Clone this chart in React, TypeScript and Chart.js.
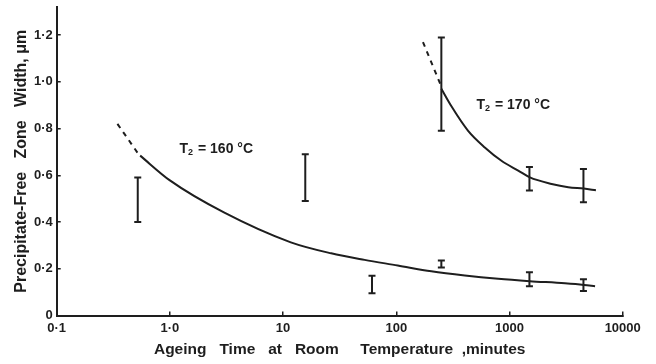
import React, { useEffect, useRef } from "react";
import { Chart, registerables } from "chart.js";

Chart.register(...registerables);

// ---- axis ticks ----
const xTickValues = [0.1, 1, 10, 100, 1000, 10000];
const xTickLabels = ["0·1", "1·0", "10", "100", "1000", "10000"];
const yTickValues = [0, 0.2, 0.4, 0.6, 0.8, 1.0, 1.2];
const yTickLabels = ["0", "0·2", "0·4", "0·6", "0·8", "1·0", "1·2"];

// ---- T2 = 160 °C ----
const bars160X = [0.52, 15.7, 61, 250, 1500, 4500];
const bars160Low = [0.4, 0.49, 0.095, 0.205, 0.125, 0.105];
const bars160High = [0.59, 0.69, 0.17, 0.235, 0.185, 0.155];
const curve160X = [0.546, 1.0, 3.0, 11.7, 26.6, 52.5, 103, 204, 403, 794, 1513, 3090, 4550, 5700];
const curve160Y = [0.684, 0.578, 0.441, 0.313, 0.266, 0.238, 0.214, 0.189, 0.171, 0.157, 0.147, 0.138, 0.131, 0.125];
const dash160X = [0.344, 0.52];
const dash160Y = [0.82, 0.695];

// ---- T2 = 170 °C ----
const bars170X = [250, 1500, 4500];
const bars170Low = [0.79, 0.535, 0.485];
const bars170High = [1.19, 0.635, 0.627];
const curve170X = [250, 307, 431, 605, 849, 1194, 1513, 2355, 3305, 4530, 5800];
const curve170Y = [0.97, 0.895, 0.79, 0.719, 0.662, 0.62, 0.591, 0.563, 0.549, 0.543, 0.536];
const dash170X = [172, 245];
const dash170Y = [1.17, 0.99];

// ---- annotations ----
const labelTemps = ["160", "170"];
const labelX = [2.57, 1080];
const labelY = [0.716, 0.907];

const INK = "#1e1e1e";
const FAMILY = "'Liberation Sans', Arial, Helvetica, sans-serif";

const pts = (xs: number[], ys: number[]) => xs.map((x, i) => ({ x, y: ys[i] }));

const errorBarSets = (xs: number[], lo: number[], hi: number[]) =>
  xs.map((x, i) => ({
    type: "line" as const,
    data: [
      { x, y: lo[i] },
      { x, y: hi[i] },
    ],
    borderColor: INK,
    borderWidth: 2,
    pointStyle: "line" as const,
    pointRadius: 3.5,
    pointHoverRadius: 3.5,
    pointBorderWidth: 2,
    pointBorderColor: INK,
    showLine: true,
    tension: 0,
  }));

const curveSet = (xs: number[], ys: number[], dashed: boolean) => ({
  type: "line" as const,
  data: pts(xs, ys),
  borderColor: INK,
  borderWidth: 2,
  borderDash: dashed ? [5, 5] : [],
  pointRadius: 0,
  pointHoverRadius: 0,
  cubicInterpolationMode: "monotone" as const,
  showLine: true,
});

const labelPlugin = {
  id: "t2labels",
  afterDatasetsDraw(chart: any) {
    const { ctx, scales } = chart;
    const xs = scales.x;
    const ys = scales.y;
    labelTemps.forEach((t, i) => {
      const cx = xs.getPixelForValue(labelX[i]);
      const cy = ys.getPixelForValue(labelY[i]);
      const main = `bold 14px ${FAMILY}`;
      const sub = `bold 9px ${FAMILY}`;
      const rest = ` = ${t} °C`;
      ctx.save();
      ctx.fillStyle = INK;
      ctx.textBaseline = "alphabetic";
      ctx.textAlign = "left";
      ctx.font = main;
      const wT = ctx.measureText("T").width;
      const wR = ctx.measureText(rest).width;
      ctx.font = sub;
      const wS = ctx.measureText("2").width + 1;
      let sx = cx - (wT + wS + wR) / 2;
      const base = cy + 5;
      ctx.font = main;
      ctx.fillText("T", sx, base);
      sx += wT;
      ctx.font = sub;
      ctx.fillText("2", sx, base + 2);
      sx += wS;
      ctx.font = main;
      ctx.fillText(rest, sx, base);
      ctx.restore();
    });
  },
};

export default function App() {
  const ref = useRef<HTMLCanvasElement | null>(null);

  useEffect(() => {
    document.body.style.margin = "0";
    document.body.style.background = "#ffffff";
    if (!ref.current) return;
    Chart.defaults.font.family = FAMILY;
    Chart.defaults.color = INK;

    const datasets: any[] = [
      curveSet(dash160X, dash160Y, true),
      curveSet(curve160X, curve160Y, false),
      curveSet(dash170X, dash170Y, true),
      curveSet(curve170X, curve170Y, false),
      ...errorBarSets(bars160X, bars160Low, bars160High),
      ...errorBarSets(bars170X, bars170Low, bars170High),
    ];

    const chart = new Chart(ref.current, {
      type: "line",
      data: { datasets },
      plugins: [labelPlugin],
      options: {
        animation: false,
        responsive: false,
        events: [],
        layout: { padding: { top: 7, right: 33.3, bottom: 0, left: 0 } },
        plugins: { legend: { display: false }, tooltip: { enabled: false } },
        scales: {
          x: {
            type: "logarithmic",
            min: 0.1,
            max: 10000,
            position: "bottom",
            border: { display: true, color: INK, width: 2 },
            grid: { display: true, drawOnChartArea: false, drawTicks: true, tickLength: -4, color: INK, lineWidth: 1.5 },
            ticks: {
              autoSkip: false,
              maxRotation: 0,
              padding: 9,
              color: INK,
              font: { size: 13, weight: "bold" },
              callback: (v: any) => {
                const i = xTickValues.findIndex((t) => Math.abs(t - Number(v)) / t < 1e-6);
                return i >= 0 ? xTickLabels[i] : "";
              },
            },
            afterBuildTicks: (scale: any) => {
              scale.ticks = xTickValues.map((v) => ({ value: v }));
            },
            afterFit: (scale: any) => {
              scale.height = 48.5;
              scale.paddingLeft = 0;
              scale.paddingRight = 0;
              scale.paddingTop = 0;
              scale.paddingBottom = 0;
            },
            title: {
              display: true,
              text: "Ageing   Time   at   Room     Temperature  ,minutes",
              color: INK,
              font: { size: 15.5, weight: "bold" },
              padding: { top: 0, bottom: 5 },
            },
          },
          y: {
            type: "linear",
            min: 0,
            max: 1.32,
            position: "left",
            border: { display: true, color: INK, width: 2 },
            grid: { display: true, drawOnChartArea: false, drawTicks: true, tickLength: -4, color: INK, lineWidth: 1.5 },
            ticks: {
              autoSkip: false,
              padding: 8,
              color: INK,
              font: { size: 13, weight: "bold" },
              callback: (v: any) => {
                const i = yTickValues.findIndex((t) => Math.abs(t - Number(v)) < 1e-6);
                return i >= 0 ? yTickLabels[i] : "";
              },
            },
            afterBuildTicks: (scale: any) => {
              scale.ticks = yTickValues.map((v) => ({ value: v }));
            },
            afterFit: (scale: any) => {
              scale.width = 56.7;
              scale.paddingLeft = 0;
              scale.paddingRight = 0;
              scale.paddingTop = 0;
              scale.paddingBottom = 0;
            },
            title: {
              display: true,
              text: "Precipitate-Free   Zone   Width, μm",
              color: INK,
              font: { size: 16, weight: "bold" },
              padding: { top: 11.5, bottom: 0 },
            },
          },
        },
      } as any,
    });
    return () => chart.destroy();
  }, []);

  return <canvas ref={ref} width={656} height={364} style={{ display: "block" }} />;
}
